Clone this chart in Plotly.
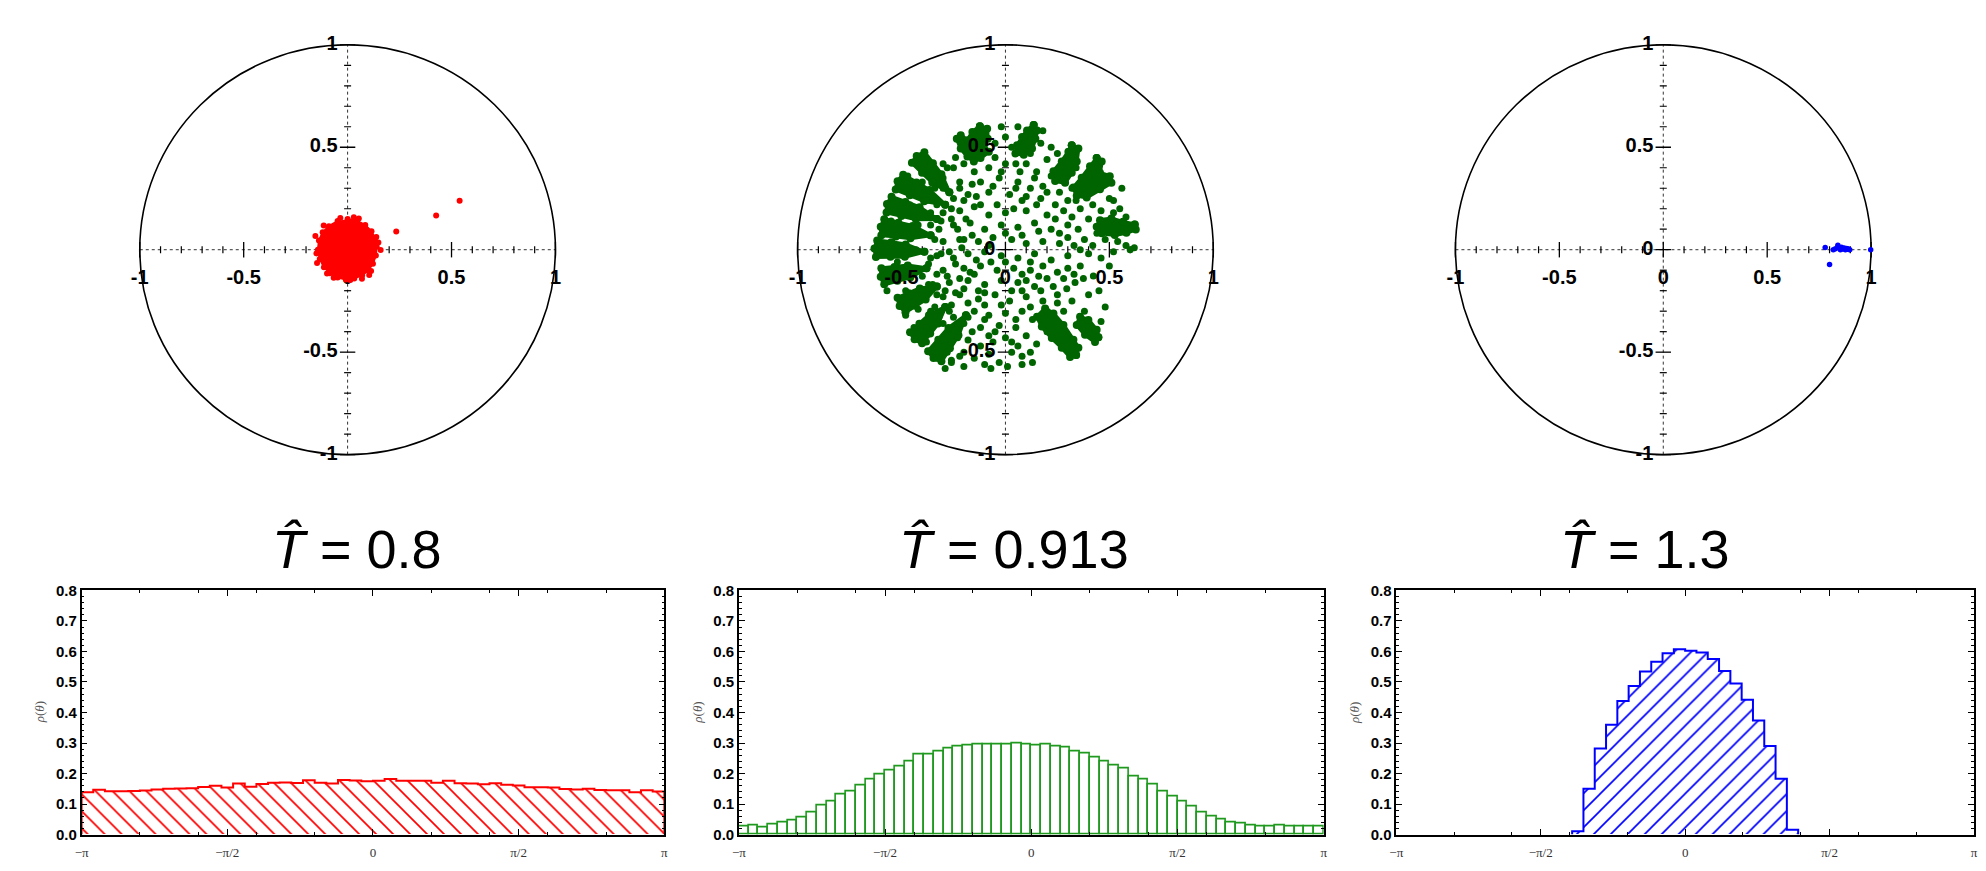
import numpy as np
import plotly.graph_objects as go

W, H = 1986, 871

# ---------------- data: top panels (unit-disc scatter) ----------------
red_blob_x = [0.000, 0.045, 0.085, 0.115, 0.132, 0.140, 0.136, 0.122, 0.100, 0.070, 0.032,
              -0.008, -0.048, -0.085, -0.114, -0.134, -0.143, -0.138, -0.120, -0.090, -0.048]
red_blob_y = [0.150, 0.142, 0.120, 0.090, 0.055, 0.015, -0.028, -0.068, -0.100, -0.125, -0.140,
              -0.145, -0.136, -0.115, -0.085, -0.045, 0.000, 0.045, 0.085, 0.115, 0.140]
red_pts_x = [-0.155, -0.115, 0.054, 0.159, 0.138, 0.148, 0.116, 0.113, 0.104, 0.069, 0.013,
             -0.067, -0.099, -0.147, -0.150, -0.035, 0.030, 0.234, 0.426, 0.539]
red_pts_y = [0.067, 0.118, 0.152, -0.002, 0.062, 0.035, -0.065, -0.104, -0.124, -0.142, -0.148,
             -0.137, -0.116, -0.065, -0.018, 0.155, 0.158, 0.089, 0.167, 0.239]

# dense green arms (outlines of the crowded radial streaks)
green_arms_x = [
    [-0.123, -0.088, -0.085, -0.104, -0.080, -0.120, -0.152, -0.183, -0.215, -0.234, -0.215, -0.183, -0.159],
    [0.136, 0.152, 0.144, 0.128, 0.088, 0.048, 0.056, 0.080, 0.104],
    [0.319, 0.351, 0.343, 0.319, 0.287, 0.239, 0.231, 0.271, 0.303],
    [0.439, 0.463, 0.455, 0.502, 0.510, 0.455, 0.391, 0.343, 0.327, 0.367, 0.407],
    [0.622, 0.627, 0.582, 0.526, 0.463, 0.439, 0.455, 0.510, 0.566],
    [0.340, 0.311, 0.271, 0.223, 0.175, 0.152, 0.191, 0.231, 0.279, 0.327, 0.351],
    [0.447, 0.431, 0.383, 0.343, 0.359, 0.399, 0.439],
    [-0.270, -0.352, -0.401, -0.450, -0.427, -0.390, -0.349, -0.308],
    [-0.290, -0.391, -0.460, -0.528, -0.519, -0.492, -0.428, -0.365],
    [-0.330, -0.431, -0.501, -0.572, -0.570, -0.548, -0.481, -0.413],
    [-0.360, -0.457, -0.527, -0.597, -0.600, -0.583, -0.515, -0.447],
    [-0.390, -0.484, -0.553, -0.623, -0.630, -0.617, -0.549, -0.480],
    [-0.380, -0.458, -0.520, -0.583, -0.600, -0.597, -0.534, -0.470],
    [-0.330, -0.384, -0.433, -0.481, -0.509, -0.519, -0.465, -0.412],
    [-0.290, -0.324, -0.362, -0.401, -0.437, -0.459, -0.414, -0.368],
    [-0.190, -0.226, -0.267, -0.308, -0.346, -0.372, -0.323, -0.274],
]
green_arms_y = [
    [0.603, 0.590, 0.542, 0.510, 0.478, 0.447, 0.431, 0.455, 0.494, 0.542, 0.558, 0.534, 0.574],
    [0.609, 0.582, 0.542, 0.494, 0.463, 0.470, 0.510, 0.550, 0.582],
    [0.510, 0.494, 0.431, 0.375, 0.327, 0.335, 0.383, 0.431, 0.478],
    [0.447, 0.431, 0.375, 0.359, 0.327, 0.295, 0.255, 0.263, 0.303, 0.351, 0.407],
    [0.123, 0.099, 0.083, 0.072, 0.080, 0.112, 0.144, 0.152, 0.136],
    [-0.514, -0.523, -0.478, -0.431, -0.375, -0.327, -0.287, -0.311, -0.367, -0.439, -0.478],
    [-0.427, -0.450, -0.415, -0.367, -0.327, -0.343, -0.391],
    [0.280, 0.328, 0.376, 0.424, 0.457, 0.476, 0.422, 0.368],
    [0.220, 0.237, 0.266, 0.294, 0.334, 0.366, 0.328, 0.291],
    [0.150, 0.149, 0.165, 0.182, 0.223, 0.258, 0.233, 0.207],
    [0.070, 0.056, 0.064, 0.071, 0.112, 0.149, 0.132, 0.116],
    [-0.010, -0.034, -0.034, -0.035, 0.006, 0.045, 0.036, 0.026],
    [-0.090, -0.135, -0.152, -0.169, -0.132, -0.091, -0.084, -0.077],
    [-0.180, -0.243, -0.274, -0.305, -0.275, -0.235, -0.212, -0.189],
    [-0.280, -0.360, -0.409, -0.457, -0.437, -0.403, -0.361, -0.320],
    [-0.320, -0.418, -0.481, -0.544, -0.528, -0.496, -0.439, -0.382],
]
# scattered green points
green_pts_x = [
    -0.05, 0.00, 0.03, -0.08, 0.10, 0.15, 0.20, 0.22, -0.15, -0.20, -0.12, -0.03, 0.06, 0.12, 0.18,
    0.26, -0.22, -0.18, -0.08, 0.02, 0.30, 0.24, 0.08, -0.25, -0.04, 0.17, 0.34, -0.28, 0.07, -0.10,
    -0.30, -0.22, -0.15, -0.08, 0.00, 0.10, 0.20, 0.28, 0.36, 0.42,
    -0.32, -0.25, -0.17, -0.10, -0.02, 0.06, 0.14, 0.22, 0.30, 0.38,
    -0.30, -0.22, -0.13, -0.06, 0.03, 0.10, 0.18, 0.26, 0.33, 0.40,
    -0.33, -0.25, -0.18, -0.10, -0.02, 0.06, 0.14, 0.22, 0.46, 0.52, 0.60,
    -0.30, -0.20, -0.12, -0.04, 0.04, 0.12, 0.30, 0.36, 0.295, 0.335, 0.375, 0.423,
    -0.35, -0.27, -0.18, -0.10, -0.02, 0.06, 0.14, 0.20,
    -0.40, -0.30, -0.22, -0.13, -0.05, 0.02, 0.10, 0.18, 0.25,
    -0.45, -0.36, -0.15, -0.08, 0.00, 0.08, 0.13, 0.28, 0.22,
    -0.48, -0.12, -0.03, 0.05, 0.10, 0.15, 0.06, -0.06, -0.12, -0.18,
    -0.22, -0.26, -0.15, -0.08, 0.12, 0.40, 0.46, 0.48,
    0.00, 0.06, 0.22, 0.40, 0.50, 0.52, 0.58, 0.62,
    -0.25, -0.30, -0.22, -0.16, -0.20, -0.14, -0.26, -0.19, -0.23, -0.16, -0.21, -0.14, -0.24, -0.17,
    -0.22, -0.13, -0.20, -0.26, -0.18, -0.10, -0.05, -0.20, -0.25,
    0.32, 0.28, 0.38, 0.40, 0.46, 0.35, 0.44, 0.30, 0.25, 0.18, 0.10, 0.17, 0.08, 0.23, 0.05, -0.02,
    0.12, 0.17, -0.05, 0.26, 0.20,
    0.00, 0.03, -0.03, -0.10, 0.20, 0.25, 0.32, 0.38, 0.45,
    -0.29, -0.26, -0.20, -0.33, 0.08, 0.01, -0.07, 0.13,
    0.05, 0.14, 0.10, -0.06, -0.12, 0.04, 0.15, 0.24, 0.32, 0.34,
    -0.26, -0.20, -0.27, -0.08, 0.00, 0.08, 0.16, 0.26, 0.36, 0.30,
    -0.28, -0.15, -0.07, 0.00, 0.08, 0.16, 0.12, -0.33, -0.24, -0.10,
    0.03, 0.12, 0.20, 0.05, -0.02, -0.10, -0.16, -0.08, 0.03, 0.08,
    0.45, 0.52, 0.55, 0.48, 0.54, 0.42, 0.50, 0.40, 0.33, 0.28,
    -0.40, -0.35, -0.36, -0.42, -0.43, -0.36, -0.40, -0.40, -0.34, -0.30,
    -0.36, -0.30, -0.24, -0.34, -0.46, -0.48, -0.52, -0.52, -0.46, -0.38,
    -0.26, -0.20, -0.30, 0.18, 0.09, -0.02, 0.25, 0.42, 0.56, 0.58,
    -0.30, -0.33, -0.38, -0.31, -0.36, -0.40, -0.34, -0.31, -0.37, -0.33,
    -0.37, -0.29, -0.27, -0.32, -0.23, -0.18, -0.44, -0.45, -0.40, -0.47,
    -0.44, -0.48, -0.42, -0.38, -0.44, -0.28, -0.23, -0.52, -0.55, -0.57,
]
green_pts_y = [
    0.45, 0.42, 0.50, 0.40, 0.42, 0.38, 0.44, 0.36, 0.38, 0.42, 0.33, 0.35, 0.33, 0.30, 0.31,
    0.28, 0.33, 0.27, 0.28, 0.27, 0.24, 0.22, 0.24, 0.25, 0.22, 0.25, 0.40, 0.40, 0.38, 0.48,
    0.18, 0.19, 0.21, 0.17, 0.18, 0.19, 0.17, 0.19, 0.20, 0.22,
    0.10, 0.12, 0.13, 0.10, 0.12, 0.11, 0.13, 0.10, 0.12, 0.05,
    0.04, 0.05, 0.04, 0.06, 0.05, 0.03, 0.04, 0.03, 0.02, -0.02,
    -0.03, -0.04, -0.02, -0.01, -0.03, -0.04, -0.02, -0.05, -0.04, -0.01, 0.00,
    -0.10, -0.09, -0.08, -0.10, -0.09, -0.10, -0.09, -0.08, -0.19, -0.16, -0.14, -0.128,
    -0.17, -0.16, -0.15, -0.17, -0.15, -0.16, -0.18, -0.14,
    -0.22, -0.23, -0.22, -0.24, -0.22, -0.25, -0.23, -0.25, -0.26,
    -0.26, -0.30, -0.30, -0.32, -0.31, -0.30, -0.34, -0.30, -0.32,
    -0.32, -0.38, -0.37, -0.38, -0.42, -0.46, -0.47, -0.45, -0.47, -0.44,
    -0.52, -0.54, -0.53, -0.51, -0.50, -0.40, -0.35, -0.28,
    0.55, 0.60, 0.50, 0.36, 0.25, 0.18, 0.02, 0.01,
    0.40, 0.35, 0.30, 0.32, 0.24, 0.26, 0.20, 0.15, 0.10, 0.07, 0.01, -0.05, -0.07, -0.11,
    -0.14, -0.20, -0.19, -0.27, -0.26, -0.27, -0.40, -0.36, -0.33,
    0.30, 0.35, 0.27, 0.15, 0.19, 0.10, 0.08, 0.06, -0.11, -0.08, -0.15, -0.20, -0.20, -0.18, 0.42, 0.38,
    0.47, 0.52, 0.52, 0.40, 0.28,
    -0.43, -0.50, -0.55, -0.56, -0.40, -0.22, -0.25, -0.30, -0.20,
    -0.58, -0.55, -0.57, -0.53, -0.56, -0.57, -0.58, -0.55,
    0.30, 0.35, 0.26, 0.31, 0.22, 0.20, 0.22, 0.15, 0.16, 0.24,
    0.15, 0.05, -0.01, 0.02, 0.08, 0.07, 0.09, 0.08, 0.00, -0.03,
    -0.13, -0.12, -0.06, -0.06, -0.12, -0.13, -0.06, -0.22, -0.21, -0.21,
    -0.20, -0.28, -0.30, -0.34, -0.27, -0.34, -0.40, -0.42, -0.45, -0.52,
    0.30, 0.24, 0.20, 0.05, 0.04, 0.02, -0.08, -0.22, -0.12, -0.14,
    0.33, 0.26, 0.18, 0.12, 0.00, -0.04, -0.13, -0.20, -0.28, -0.36,
    0.42, 0.42, 0.45, 0.30, 0.22, 0.10, 0.02, -0.06, -0.22, -0.38,
    -0.45, -0.50, -0.44, 0.58, 0.55, 0.60, 0.47, 0.40, 0.30, 0.16,
    0.30, 0.22, 0.24, 0.14, 0.12, 0.08, 0.05, -0.02, -0.07, -0.12,
    -0.17, -0.20, -0.30, -0.33, -0.36, -0.33, 0.16, 0.28, 0.39, 0.36,
    -0.10, -0.20, -0.29, -0.45, -0.38, -0.50, -0.43, 0.30, 0.14, -0.20,
]

blue_pts_x = [0.779, 0.800, 0.818, 0.828, 0.840, 0.846, 0.852, 0.857, 0.862, 0.870, 0.876, 0.882,
              0.887, 0.892, 0.897, 0.998]
blue_pts_y = [0.011, -0.072, 0.000, 0.005, 0.022, 0.010, 0.000, 0.012, 0.004, 0.008, 0.000, 0.006,
              0.002, 0.004, 0.000, 0.000]

circle_ticks_major = [-1.0, -0.5, 0.0, 0.5, 1.0]
circle_tick_labels = ["-1", "-0.5", "0", "0.5", "1"]

titles = ["<i>T\u0302</i> = 0.8", "<i>T\u0302</i> = 0.913", "<i>T\u0302</i> = 1.3"]

# ---------------- data: bottom panels (histograms of theta) ----------------
red_hist = [0.139, 0.147, 0.142, 0.142, 0.143, 0.144, 0.148, 0.150, 0.151, 0.152,
            0.156, 0.160, 0.154, 0.167, 0.157, 0.166, 0.170, 0.171, 0.169, 0.178,
            0.170, 0.167, 0.179, 0.177, 0.175, 0.176, 0.182, 0.176, 0.176, 0.176,
            0.170, 0.176, 0.168, 0.167, 0.165, 0.168, 0.163, 0.161, 0.155, 0.155,
            0.154, 0.149, 0.148, 0.150, 0.146, 0.145, 0.145, 0.139, 0.145, 0.141]
green_hist = [0.027, 0.030, 0.024, 0.034, 0.041, 0.046, 0.056, 0.071, 0.094, 0.110,
              0.130, 0.140, 0.162, 0.181, 0.196, 0.210, 0.224, 0.239, 0.261, 0.264,
              0.274, 0.283, 0.290, 0.293, 0.296, 0.297, 0.296, 0.297, 0.298, 0.297,
              0.292, 0.296, 0.288, 0.284, 0.274, 0.267, 0.253, 0.240, 0.227, 0.216,
              0.192, 0.180, 0.163, 0.142, 0.125, 0.110, 0.092, 0.073, 0.058, 0.048,
              0.041, 0.036, 0.030, 0.028, 0.028, 0.030, 0.028, 0.027, 0.027, 0.026]
blue_hist = [0.011, 0.150, 0.282, 0.360, 0.438, 0.487, 0.534, 0.566, 0.594, 0.607,
             0.602, 0.597, 0.575, 0.536, 0.495, 0.442, 0.374, 0.290, 0.183, 0.016]
blue_lo, blue_bin = -1.229, 0.1229

theta_tickvals = [-np.pi, -np.pi / 2, 0, np.pi / 2, np.pi]
theta_ticktext = ["\u2212\u03c0", "\u2212\u03c0/2", "0", "\u03c0/2", "\u03c0"]
rho_ticks = [0.0, 0.1, 0.2, 0.3, 0.4, 0.5, 0.6, 0.7, 0.8]

# ---------------- layout geometry (pixels) ----------------
R = 209.0
top_cx = [342.5, 1004.0, 1665.5]
top_cy = 245.5
half = 1.1
bot_left = [75, 736, 1397]
bot_right = [661, 1324, 1978]
bot_top, bot_bottom = 593, 842
title_cx = [352, 1013, 1647]
title_cy = 551

fig = go.Figure()
layout = dict(width=W, height=H, margin=dict(l=0, r=0, t=0, b=0),
              paper_bgcolor="white", plot_bgcolor="white", showlegend=False,
              bargap=0, barmode="overlay")
shapes, annotations = [], []
bold = dict(family="Liberation Sans, Arial, sans-serif", size=20, color="black", weight="bold")


def add_labels(xa, ya):
    fig.add_trace(go.Scatter(x=circle_ticks_major, y=[-30 / R] * 5, mode="text",
                             text=circle_tick_labels, textfont=bold, textposition="middle center",
                             xaxis=xa, yaxis=ya, hoverinfo="skip", cliponaxis=False))
    fig.add_trace(go.Scatter(x=[-10 / R] * 5, y=circle_ticks_major, mode="text",
                             text=circle_tick_labels, textfont=bold, textposition="middle left",
                             xaxis=xa, yaxis=ya, hoverinfo="skip", cliponaxis=False))


for i in range(3):
    s = "" if i == 0 else str(i + 1)
    xa, ya = "x" + s, "y" + s
    cx = top_cx[i]
    layout["xaxis" + s] = dict(domain=[(cx - half * R) / W, (cx + half * R) / W],
                               range=[-half, half], visible=False, anchor=ya, fixedrange=True)
    layout["yaxis" + s] = dict(domain=[1 - (top_cy + half * R) / H, 1 - (top_cy - half * R) / H],
                               range=[-half, half], visible=False, anchor=xa, fixedrange=True)
    shapes.append(dict(type="line", xref=xa, yref=ya, x0=-1, x1=1, y0=0, y1=0,
                       line=dict(color="#333", width=1, dash="dot"), layer="below"))
    shapes.append(dict(type="line", xref=xa, yref=ya, x0=0, x1=0, y0=-1, y1=1,
                       line=dict(color="#333", width=1, dash="dot"), layer="below"))
    shapes.append(dict(type="circle", xref=xa, yref=ya, x0=-1, x1=1, y0=-1, y1=1,
                       line=dict(color="black", width=1.6), layer="below"))
    if i != 1:
        add_labels(xa, ya)
    minor = [v for v in np.round(np.arange(-1.0, 1.01, 0.1), 2) if abs(v * 2 - round(v * 2)) > 1e-6]
    fig.add_trace(go.Scatter(x=minor, y=[0] * len(minor), mode="markers", xaxis=xa, yaxis=ya,
                             marker=dict(symbol="line-ns", size=5, line=dict(color="black", width=1.2)),
                             hoverinfo="skip"))
    fig.add_trace(go.Scatter(x=circle_ticks_major, y=[0] * 5, mode="markers", xaxis=xa, yaxis=ya,
                             marker=dict(symbol="line-ns", size=11, line=dict(color="black", width=1.3)),
                             hoverinfo="skip"))
    fig.add_trace(go.Scatter(x=[0] * len(minor), y=minor, mode="markers", xaxis=xa, yaxis=ya,
                             marker=dict(symbol="line-ew", size=5, line=dict(color="black", width=1.2)),
                             hoverinfo="skip"))
    fig.add_trace(go.Scatter(x=[0] * 5, y=circle_ticks_major, mode="markers", xaxis=xa, yaxis=ya,
                             marker=dict(symbol="line-ew", size=11, line=dict(color="black", width=1.3)),
                             hoverinfo="skip"))

# red points
fig.add_trace(go.Scatter(x=red_blob_x, y=red_blob_y, mode="lines+markers", fill="toself",
                         fillcolor="#ff0000", line=dict(color="#ff0000", width=2),
                         marker=dict(color="#ff0000", size=6), xaxis="x", yaxis="y"))
fig.add_trace(go.Scatter(x=red_pts_x, y=red_pts_y, mode="markers",
                         marker=dict(color="#ff0000", size=6), xaxis="x", yaxis="y"))
# green points
DG = "#006400"
gx, gy = [], []
for ax_, ay_ in zip(green_arms_x, green_arms_y):
    gx += list(ax_) + [ax_[0], None]
    gy += list(ay_) + [ay_[0], None]
fig.add_trace(go.Scatter(x=gx, y=gy, mode="lines+markers", fill="toself", fillcolor=DG,
                         line=dict(color=DG, width=4), marker=dict(color=DG, size=8),
                         xaxis="x2", yaxis="y2"))
fig.add_trace(go.Scatter(x=green_pts_x, y=green_pts_y, mode="markers",
                         marker=dict(color=DG, size=7), xaxis="x2", yaxis="y2"))
add_labels("x2", "y2")
# blue points
fig.add_trace(go.Scatter(x=blue_pts_x, y=blue_pts_y, mode="markers",
                         marker=dict(color="#0000ff", size=5.5), xaxis="x3", yaxis="y3"))

# titles
for i in range(3):
    annotations.append(dict(text=titles[i], x=title_cx[i] / W, y=1 - title_cy / H, xref="paper",
                            yref="paper", showarrow=False, xanchor="center", yanchor="middle",
                            font=dict(family="Liberation Sans, Arial, sans-serif", size=54,
                                      color="black")))

# ---------------- bottom histograms ----------------
hists = [red_hist, green_hist, blue_hist]
hcolors = ["#ff0000", "#1f9a1f", "#0000ff"]
for i in range(3):
    s = str(i + 4)
    xa, ya = "x" + s, "y" + s
    h = hists[i]
    n = len(h)
    if i < 2:
        edges = np.linspace(-np.pi, np.pi, n + 1)
    else:
        edges = blue_lo + blue_bin * np.arange(n + 1)
    centers = 0.5 * (edges[:-1] + edges[1:])
    wdt = edges[1] - edges[0]
    if i == 1:
        fig.add_trace(go.Bar(x=centers, y=h, width=wdt, xaxis=xa, yaxis=ya,
                             marker=dict(color="rgba(0,0,0,0)", line=dict(color=hcolors[i], width=1.6)),
                             hoverinfo="skip"))
    else:
        shape = "\\" if i == 0 else "/"
        fig.add_trace(go.Bar(x=centers, y=h, width=wdt, xaxis=xa, yaxis=ya,
                             marker=dict(color="rgba(0,0,0,0)", line=dict(width=0),
                                         pattern=dict(shape=shape, fgcolor=hcolors[i], bgcolor="white",
                                                      size=12, solidity=0.14, fillmode="replace")),
                             hoverinfo="skip"))
        xs = [edges[0]] + list(edges)
        ys = [0] + list(h) + [0]
        fig.add_trace(go.Scatter(x=xs, y=ys, mode="lines", xaxis=xa, yaxis=ya,
                                 line=dict(color=hcolors[i], width=2, shape="hv"), hoverinfo="skip"))
    layout["xaxis" + s] = dict(
        domain=[bot_left[i] / W, bot_right[i] / W], range=[-np.pi, np.pi], anchor=ya,
        tickvals=theta_tickvals, ticktext=theta_ticktext, ticks="inside", ticklen=6,
        tickcolor="black", tickwidth=1, showline=True, linecolor="black", linewidth=1.5,
        mirror="allticks", showgrid=False, zeroline=False, ticklabelstandoff=5,
        tickfont=dict(family="Liberation Serif, serif", size=13, color="#333"),
        minor=dict(tickvals=list(np.linspace(-np.pi, np.pi, 11)), ticks="inside", ticklen=3,
                   tickcolor="black", showgrid=False))
    layout["yaxis" + s] = dict(
        domain=[1 - bot_bottom / H, 1 - bot_top / H], range=[0, 0.8], anchor=xa,
        tickvals=rho_ticks, ticktext=["%.1f" % v for v in rho_ticks], ticks="inside", ticklen=6,
        tickcolor="black", showline=True, linecolor="black", linewidth=1.5, mirror="allticks",
        showgrid=False, zeroline=False,
        tickfont=dict(family="Liberation Sans, Arial, sans-serif", size=15, color="black", weight="bold"),
        minor=dict(dtick=0.02, tick0=0, ticks="inside", ticklen=3, tickcolor="black", showgrid=False))
    annotations.append(dict(text="<i>\u03c1</i>(<i>\u03b8</i>)", x=(bot_left[i] - 42) / W,
                            y=1 - (bot_top + bot_bottom) / 2 / H, xref="paper", yref="paper",
                            showarrow=False, textangle=-90, xanchor="center", yanchor="middle",
                            font=dict(family="Liberation Serif, serif", size=13, color="#555")))

layout["shapes"] = shapes
layout["annotations"] = annotations
fig.update_layout(**layout)
fig.write_html("out.html", config={"displayModeBar": False},
               post_script="document.body.style.margin='0';document.body.style.overflow='hidden';")
